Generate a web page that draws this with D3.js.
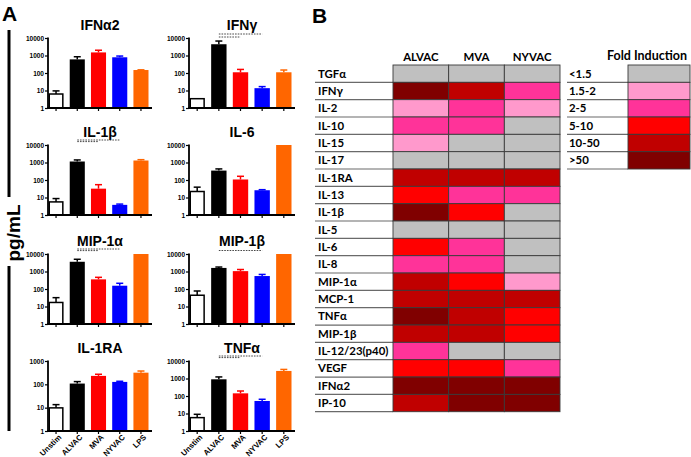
<!DOCTYPE html>
<html><head><meta charset="utf-8">
<script src="https://cdn.jsdelivr.net/npm/d3@7"></script>
<style>
body{margin:0;background:#fff;}
svg{display:block;}
.ax text{font-family:"Liberation Sans",Arial,sans-serif;font-weight:bold;}
</style></head>
<body><svg id="c" width="691" height="457"></svg>
<script>
// ---------- Panel A data ----------
const groups = ["Unstim", "ALVAC", "MVA", "NYVAC", "LPS"];
const groupFill = ["#ffffff", "#000000", "#ff0000", "#0000ff", "#ff6600"];
const groupLine = ["#000000", "#000000", "#ff0000", "#0000ff", "#ff6600"];

const cytokines = ["IFNα2", "IFNγ", "IL-1β", "IL-6", "MIP-1α", "MIP-1β", "IL-1RA", "TNFα"];
const meanIFNa2 = [6.3, 600, 1500, 790, 148];
const errIFNa2  = [9.5, 850, 2000, 930, 152];
const meanIFNg  = [3.4, 4400, 110, 13.6, 110];
const errIFNg   = [3.4, 6700, 160, 16.7, 148];
const meanIL1b  = [5.6, 1140, 32, 3.8, 1300];
const errIL1b   = [8.7, 1400, 54, 4.2, 1450];
const meanIL6   = [22, 345, 107, 26, 10000];
const errIL6    = [39, 430, 163, 28, 10000];
const meanMIP1a = [17, 3600, 355, 154, 10000];
const errMIP1a  = [32, 5000, 465, 212, 10000];
const meanMIP1b = [44, 1600, 1050, 550, 10000];
const errMIP1b  = [77, 1800, 1300, 680, 10000];
const meanIL1RA = [9.8, 108, 230, 127, 316];
const errIL1RA  = [13.5, 131, 270, 135, 372];
const meanTNFa  = [5.8, 900, 142, 52, 2700];
const errTNFa   = [9, 1230, 193, 65, 3300];
const means = [meanIFNa2, meanIFNg, meanIL1b, meanIL6, meanMIP1a, meanMIP1b, meanIL1RA, meanTNFa];
const errs  = [errIFNa2, errIFNg, errIL1b, errIL6, errMIP1a, errMIP1b, errIL1RA, errTNFa];
const yMaxs = [10000, 10000, 10000, 10000, 10000, 10000, 1000, 10000];
const ticksLong = [1, 10, 100, 1000, 10000];
const ticksShort = [1, 10, 100, 1000];
// significance comparisons (group pairs), per cytokine
const sigPairs = [[], [["ALVAC","NYVAC"],["ALVAC","MVA"]], [["ALVAC","NYVAC"],["ALVAC","MVA"]], [],
                  [["ALVAC","NYVAC"],["ALVAC","MVA"]], [["ALVAC","NYVAC"]], [], [["ALVAC","NYVAC"],["ALVAC","MVA"]]];

// ---------- Panel B data ----------
const heatRows = ["TGFα","IFNγ","IL-2","IL-10","IL-15","IL-17","IL-1RA","IL-13","IL-1β","IL-5","IL-6","IL-8",
                  "MIP-1α","MCP-1","TNFα","MIP-1β","IL-12/23(p40)","VEGF","IFNα2","IP-10"];
const heatCols = ["ALVAC", "MVA", "NYVAC"];
const heatALVAC = [0,5,1,2,1,0,4,3,5,0,3,2,4,4,5,4,2,3,5,4];
const heatMVA   = [0,4,2,2,0,0,4,2,3,0,2,2,3,4,4,4,0,3,5,5];
const heatNYVAC = [0,2,1,0,0,0,4,2,0,0,0,0,1,4,3,3,0,2,5,5];
const foldLabels = ["<1.5", "1.5-2", "2-5", "5-10", "10-50", ">50"];
const foldColors = ["#c0c0c0", "#ff99cc", "#ff3399", "#ff0000", "#c00000", "#800000"];

const svg = d3.select("#c");
const AF = '"Liberation Sans", Arial, sans-serif';
const CF = 'Lato, "Open Sans", sans-serif';

// Panel letters
svg.append("text").attr("x", 2).attr("y", 21).text("A")
  .style("font-family", AF).style("font-weight", "bold").style("font-size", "21px");
svg.append("text").attr("x", 312).attr("y", 23).text("B")
  .style("font-family", AF).style("font-weight", "bold").style("font-size", "21px");

// pg/mL label with lines
svg.append("line").attr("x1", 9).attr("x2", 9).attr("y1", 30).attr("y2", 197).attr("stroke", "#000").attr("stroke-width", 3);
svg.append("line").attr("x1", 9).attr("x2", 9).attr("y1", 266).attr("y2", 431).attr("stroke", "#000").attr("stroke-width", 3);
svg.append("text").attr("transform", "translate(20,233) rotate(-90)").attr("text-anchor", "middle")
  .text("pg/mL").style("font-family", AF).style("font-weight", "bold").style("font-size", "19px");

// Panel A small multiples
const colX = [48, 189];
const colW = [104, 106];
const rowTop = [38, 145, 254, 361];
const plotH = 70;

cytokines.forEach((name, i) => {
  const c = i % 2, r = Math.floor(i / 2);
  const x0 = colX[c], top = rowTop[r], bottom = top + plotH;
  const g = svg.append("g");
  const x = d3.scaleBand().domain(groups).range([x0 + 0.5, x0 + colW[c] - 3.5]).paddingInner(0.29).paddingOuter(0);
  const y = d3.scaleLog().domain([1, yMaxs[i]]).range([bottom, top]);
  const vals = means[i], ev = errs[i];

  g.append("text").attr("x", x0 + colW[c] / 2).attr("y", top - 8).attr("text-anchor", "middle")
    .text(name).style("font-family", AF).style("font-weight", "bold").style("font-size", "14px");

  groups.forEach((gr, k) => {
    const bx = x(gr), bw = x.bandwidth(), v = vals[k];
    if (k === 0) {
      g.append("rect").attr("x", bx + 0.75).attr("y", y(v)).attr("width", bw - 1.5).attr("height", y(1) - y(v))
        .attr("fill", "#fff").attr("stroke", "#000").attr("stroke-width", 1.5);
    } else {
      g.append("rect").attr("x", bx).attr("y", y(v)).attr("width", bw).attr("height", y(1) - y(v))
        .attr("fill", groupFill[k]);
    }
    const cx = bx + bw / 2;
    if (ev[k] > v) {
      g.append("line").attr("x1", cx).attr("x2", cx).attr("y1", y(v)).attr("y2", y(ev[k]))
        .attr("stroke", groupLine[k]).attr("stroke-width", 1.5);
      g.append("line").attr("x1", cx - 3.5).attr("x2", cx + 3.5).attr("y1", y(ev[k])).attr("y2", y(ev[k]))
        .attr("stroke", groupLine[k]).attr("stroke-width", 1.5);
    }
  });

  const ya = g.append("g").attr("class", "ax").attr("transform", `translate(${x0},0)`)
    .call(d3.axisLeft(y).tickValues(yMaxs[i] === 1000 ? ticksShort : ticksLong).tickFormat(d3.format("d")).tickSize(3).tickSizeOuter(0));
  ya.select(".domain").remove();
  ya.selectAll(".tick line").attr("stroke-width", 1.2);
  ya.selectAll(".tick text").style("font-size", "6.5px").attr("x", -4);
  g.append("line").attr("x1", x0).attr("x2", x0).attr("y1", top - 0.5).attr("y2", bottom + 1)
    .attr("stroke", "#000").attr("stroke-width", 1.8);

  const xa = g.append("g").attr("class", "ax").attr("transform", `translate(0,${bottom})`)
    .call(d3.axisBottom(x).tickSize(3).tickSizeOuter(0));
  xa.select(".domain").remove();
  xa.selectAll(".tick line").attr("stroke-width", 1.2);
  if (r === 3) {
    xa.selectAll(".tick text").attr("transform", "translate(2,3) rotate(-45)")
      .attr("text-anchor", "end").attr("dy", "0.3em").attr("y", 3).attr("x", 0).style("font-size", "7.8px");
  } else {
    xa.selectAll(".tick text").remove();
  }
  g.append("line").attr("x1", x0 - 0.9).attr("x2", x0 + colW[c]).attr("y1", bottom).attr("y2", bottom)
    .attr("stroke", "#000").attr("stroke-width", 1.8);

  sigPairs[i].forEach((p, j) => {
    const xa1 = x(p[0]) + x.bandwidth() / 2, xa2 = x(p[1]) + x.bandwidth() / 2;
    const yy = (sigPairs[i].length === 1) ? top - 3.5 : (i === 1 ? top - 4 + j * 3 : top - 5 + j * 1.6);
    g.append("line").attr("x1", xa1).attr("x2", xa2).attr("y1", yy).attr("y2", yy)
      .attr("stroke", "#333").attr("stroke-width", 0.9).attr("stroke-dasharray", "1.6,1.1");
  });
});

// ---------- Panel B heatmap ----------
const hx = d3.scaleBand().domain(heatCols).range([393, 560]);
const hy = d3.scaleBand().domain(heatRows).range([65, 411.7]);
const heatVals = [heatALVAC, heatMVA, heatNYVAC];
const hb = svg.append("g");
const HFS = "11.4px";

heatRows.forEach((rw, k) => {
  hb.append("line").attr("x1", 315).attr("x2", 393).attr("y1", hy(rw) + hy.bandwidth()).attr("y2", hy(rw) + hy.bandwidth())
    .attr("stroke", "#6a6a6a").attr("stroke-width", 1.2);
  hb.append("text").attr("x", 318).attr("y", hy(rw) + hy.bandwidth() / 2 + 4).text(rw)
    .style("font-family", CF).style("font-weight", "bold").style("font-size", HFS);
});
heatCols.forEach((cl, j) => {
  hb.append("text").attr("x", hx(cl) + hx.bandwidth() / 2).attr("y", 61).attr("text-anchor", "middle").text(cl)
    .style("font-family", CF).style("font-weight", "bold").style("font-size", HFS);
  heatRows.forEach((rw, k) => {
    hb.append("rect").attr("x", hx(cl)).attr("y", hy(rw)).attr("width", hx.bandwidth()).attr("height", hy.bandwidth())
      .attr("fill", foldColors[heatVals[j][k]]).attr("stroke", "#3a3a3a").attr("stroke-width", 0.9);
  });
});

const ly = d3.scaleBand().domain(foldLabels).range([65, 65 + 6 * hy.step()]);
hb.append("text").attr("x", 647).attr("y", 60).attr("text-anchor", "middle").text("Fold Induction")
  .style("font-family", CF).style("font-weight", "bold").style("font-size", "12.5px");
foldLabels.forEach((lb, k) => {
  hb.append("line").attr("x1", 567).attr("x2", 628).attr("y1", ly(lb) + ly.bandwidth()).attr("y2", ly(lb) + ly.bandwidth())
    .attr("stroke", "#6a6a6a").attr("stroke-width", 1.2);
  hb.append("text").attr("x", 569).attr("y", ly(lb) + ly.bandwidth() / 2 + 4).text(lb)
    .style("font-family", CF).style("font-weight", "bold").style("font-size", HFS);
  hb.append("rect").attr("x", 628).attr("y", ly(lb)).attr("width", 62).attr("height", ly.bandwidth())
    .attr("fill", foldColors[k]).attr("stroke", "#3a3a3a").attr("stroke-width", 0.9);
});
</script></body></html>
